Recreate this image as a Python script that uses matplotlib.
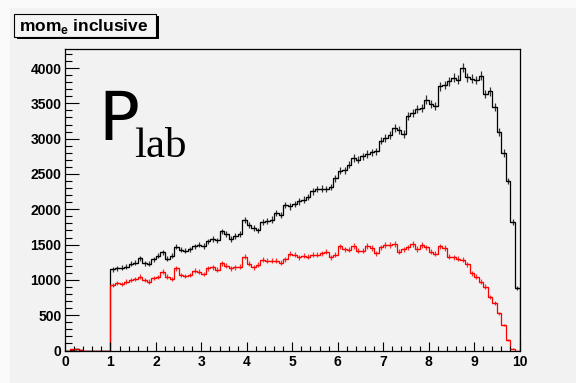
import numpy as np
import matplotlib
matplotlib.use("Agg")
import matplotlib.pyplot as plt
from matplotlib.patches import Rectangle
from matplotlib.ticker import MultipleLocator

# 100 bins from 0 to 10
edges = np.linspace(0, 10, 101)

# all electrons (black)
mom_all = [
    0, 12, 18, 8, 0, 0, 0, 0, 0, 0,
    1151, 1165, 1175, 1189, 1227, 1246, 1307, 1236, 1227, 1293,
    1340, 1388, 1300, 1340, 1470, 1426, 1416, 1435, 1473, 1500,
    1482, 1544, 1577, 1560, 1686, 1652, 1577, 1624, 1650, 1851,
    1780, 1733, 1700, 1813, 1837, 1855, 1946, 1922, 2064, 2040,
    2078, 2111, 2135, 2173, 2253, 2286, 2291, 2286, 2315, 2442,
    2546, 2551, 2631, 2726, 2702, 2750, 2783, 2806, 2820, 2972,
    3010, 3048, 3151, 3128, 3071, 3317, 3364, 3425, 3435, 3553,
    3492, 3459, 3742, 3760, 3813, 3861, 3837, 4003, 3870, 3850,
    3830, 3890, 3630, 3670, 3445, 3090, 2800, 2400, 1815, 886,
]

# selected electrons (red)
mom_sel = [
    0, 15, 20, 10, 0, 0, 0, 0, 0, 0,
    929, 953, 943, 976, 1000, 1009, 1047, 1000, 976, 1024,
    1038, 1118, 1047, 1009, 1165, 1071, 1057, 1071, 1132, 1118,
    1085, 1165, 1180, 1142, 1236, 1199, 1165, 1180, 1189, 1331,
    1227, 1180, 1213, 1284, 1274, 1274, 1274, 1246, 1293, 1370,
    1355, 1322, 1340, 1331, 1355, 1355, 1378, 1402, 1322, 1355,
    1473, 1435, 1426, 1482, 1416, 1416, 1482, 1449, 1378, 1459,
    1496, 1496, 1510, 1402, 1435, 1459, 1506, 1440, 1496, 1459,
    1402, 1369, 1473, 1449, 1331, 1322, 1298, 1284, 1222, 1095,
    1047, 976, 905, 763, 669, 527, 362, 150, 25, 0,
]

plt.rcParams['mathtext.fontset'] = 'custom'
plt.rcParams['mathtext.rm'] = 'Liberation Sans:bold'

W, H = 576, 383
bg = '#f2f2f2'
fig = plt.figure(figsize=(W / 100, H / 100), dpi=100, facecolor=bg)

# light bevel on top / left of the canvas
fig.patches.append(Rectangle((0, 1 - 8 / H), 1, 8 / H, transform=fig.transFigure,
                             facecolor='#fafafa', edgecolor='none', zorder=0))
fig.patches.append(Rectangle((0, 0), 10 / W, 1, transform=fig.transFigure,
                             facecolor='#fafafa', edgecolor='none', zorder=0))

ax = fig.add_axes([65 / W, 1 - 350.5 / H, 454.5 / W, 301.5 / H])
ax.set_facecolor(bg)

centers = 0.5 * (edges[:-1] + edges[1:])
for vals, col in [(mom_all, 'black'), (mom_sel, 'red')]:
    v = np.array(vals, dtype=float)
    ax.stairs(v, edges, color=col, lw=0.9)
    ax.errorbar(centers, v, xerr=0.05, yerr=np.sqrt(v), fmt='none',
                ecolor=col, elinewidth=0.9, capsize=0, alpha=0.8)

ax.set_xlim(0, 10)
ax.set_ylim(0, 4270)
ax.xaxis.set_major_locator(MultipleLocator(1))
ax.xaxis.set_minor_locator(MultipleLocator(0.2))
ax.yaxis.set_major_locator(MultipleLocator(500))
ax.yaxis.set_minor_locator(MultipleLocator(100))

ax.tick_params(axis='x', which='major', direction='in', length=6.5, width=0.8, pad=3)
ax.tick_params(axis='x', which='minor', direction='in', length=3.3, width=0.8)
ax.tick_params(axis='y', which='major', direction='in', length=9.8, width=0.8, pad=2.5)
ax.tick_params(axis='y', which='minor', direction='in', length=4.9, width=0.8)
for lab in ax.get_xticklabels() + ax.get_yticklabels():
    lab.set_fontfamily('Liberation Sans')
    lab.set_fontweight('bold')
    lab.set_fontsize(10)
for s in ax.spines.values():
    s.set_color('black')
    s.set_linewidth(0.9)

# P_lab annotation
ax.text(0.0726, 0.698, 'P', transform=ax.transAxes, fontsize=49,
        family='DejaVu Sans', va='baseline', ha='left')
ax.text(0.152, 0.643, 'lab', transform=ax.transAxes, fontsize=31,
        family='Liberation Serif', va='baseline', ha='left')

# title box with shadow
fig.patches.append(Rectangle((16.5 / W, 1 - 38.5 / H), 142 / W, 22.5 / H,
                             transform=fig.transFigure, facecolor='black',
                             edgecolor='none', zorder=2))
fig.patches.append(Rectangle((14 / W, 1 - 36.5 / H), 142 / W, 22.5 / H,
                             transform=fig.transFigure, facecolor='#f4f4f4',
                             edgecolor='black', linewidth=0.8, zorder=3))
fig.text(19 / W, 1 - 30.5 / H, r'mom$_{\mathrm{e}}$ inclusive', fontsize=12.5,
         fontweight='bold', family='Liberation Sans', va='baseline', zorder=4)

fig.savefig('out.png', dpi=100, facecolor=bg)
